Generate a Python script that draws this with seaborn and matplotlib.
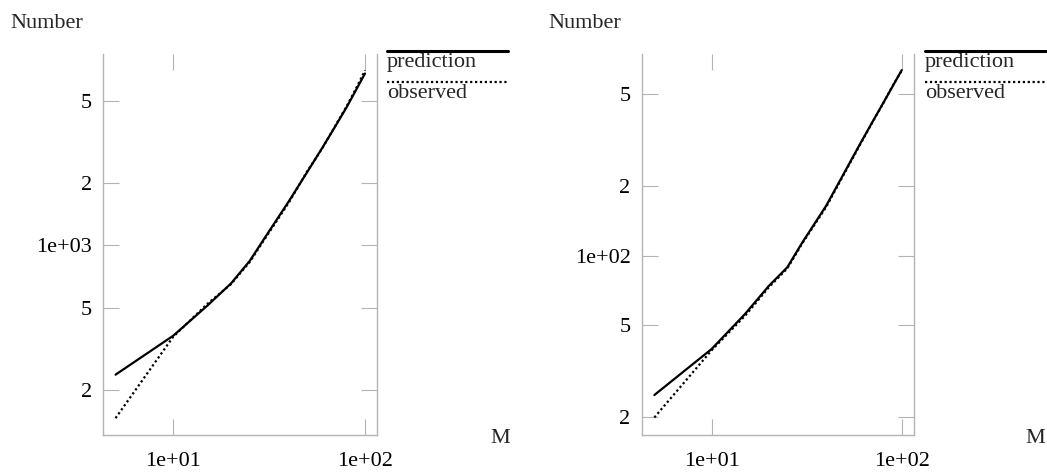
import matplotlib
matplotlib.use("Agg")
import matplotlib.pyplot as plt
from matplotlib.lines import Line2D
from matplotlib.ticker import FixedLocator, FixedFormatter, NullLocator
import pandas as pd
import seaborn as sns

# values
m_vals = [5, 10, 15, 20, 25, 30, 40, 50, 60, 70, 80, 90, 100]

left_pred = [237, 366, 510, 655, 840, 1089, 1633, 2270, 2980, 3775, 4650, 5680, 6800]
left_obs = [146, 362, 520, 650, 830, 1075, 1610, 2290, 2960, 3800, 4700, 5780, 7050]

right_pred = [25, 39.5, 56, 74, 89, 114, 164, 229, 301, 377, 457, 543, 633]
right_obs = [20, 39, 55, 73, 88, 113, 162, 227, 299, 376, 456, 545, 630]

left_yticks = [200, 500, 1000, 2000, 5000]
left_ylabels = ["2", "5", "1e+03", "2", "5"]
right_yticks = [20, 50, 100, 200, 500]
right_ylabels = ["2", "5", "1e+02", "2", "5"]
xticks = [10, 100]
xlabels = ["1e+01", "1e+02"]

sns.set_style("white")
plt.rcParams["font.family"] = ["Liberation Serif", "DejaVu Serif"]
plt.rcParams["font.size"] = 16

W, H = 1047, 474
fig = plt.figure(figsize=(W / 100, H / 100), dpi=100)
GRAY = "#b3b3b3"


def fx(px):
    return px / W


def fy(py):
    return 1 - py / H


def make_df(pred, obs):
    d1 = pd.DataFrame({"M": m_vals, "Number": pred, "series": "prediction"})
    d2 = pd.DataFrame({"M": m_vals, "Number": obs, "series": "observed"})
    return pd.concat([d1, d2], ignore_index=True)


panels = [
    (103, 377, make_df(left_pred, left_obs), (4.3, 115.5), (121, 8450), left_yticks, left_ylabels),
    (641.7, 914, make_df(right_pred, right_obs), (4.29, 116), (16.8, 743), right_yticks, right_ylabels),
]

for x0, x1, df, xlim, ylim, yt, yl in panels:
    ax = fig.add_axes([fx(x0), fy(435), fx(x1 - x0), (435 - 54) / H])
    sns.lineplot(data=df, x="M", y="Number", style="series",
                 dashes={"prediction": "", "observed": (1, 1.2)},
                 color="black", linewidth=1.6, legend=False, ax=ax)
    ax.set_xscale("log")
    ax.set_yscale("log")
    ax.set_xlim(*xlim)
    ax.set_ylim(*ylim)
    ax.xaxis.set_major_locator(FixedLocator(xticks))
    ax.xaxis.set_major_formatter(FixedFormatter(xlabels))
    ax.yaxis.set_major_locator(FixedLocator(yt))
    ax.yaxis.set_major_formatter(FixedFormatter(yl))
    ax.xaxis.set_minor_locator(NullLocator())
    ax.yaxis.set_minor_locator(NullLocator())
    ax.tick_params(which="major", direction="in", length=11.5, width=0.8,
                   color=GRAY, top=True, right=True, bottom=True, left=True,
                   labelsize=16, labelcolor="black")
    ax.tick_params(axis="x", pad=12)
    ax.tick_params(axis="y", pad=8)
    ax.set_xlabel("")
    ax.set_ylabel("")
    for s in ["left", "right", "bottom"]:
        ax.spines[s].set_color(GRAY)
        ax.spines[s].set_linewidth(1.0)
    ax.spines["top"].set_visible(False)
    ax.patch.set_alpha(0)

# axis titles
for px in [10, 548]:
    fig.text(fx(px), fy(28), "Number", ha="left", va="baseline", fontsize=16)
for px in [490, 1025]:
    fig.text(fx(px), fy(443), "M", ha="left", va="baseline", fontsize=16)

# legends: key line above each label
for lx in [387, 925]:
    fig.add_artist(Line2D([fx(lx), fx(lx + 121)], [fy(51), fy(51)], color="black",
                          linewidth=2.2, transform=fig.transFigure))
    fig.text(fx(lx), fy(67), "prediction", ha="left", va="baseline", fontsize=16)
    fig.add_artist(Line2D([fx(lx), fx(lx + 121)], [fy(82), fy(82)], color="black",
                          linewidth=1.6, dashes=(1, 1.2), transform=fig.transFigure))
    fig.text(fx(lx), fy(98), "observed", ha="left", va="baseline", fontsize=16)

fig.savefig("out.png", dpi=100)
